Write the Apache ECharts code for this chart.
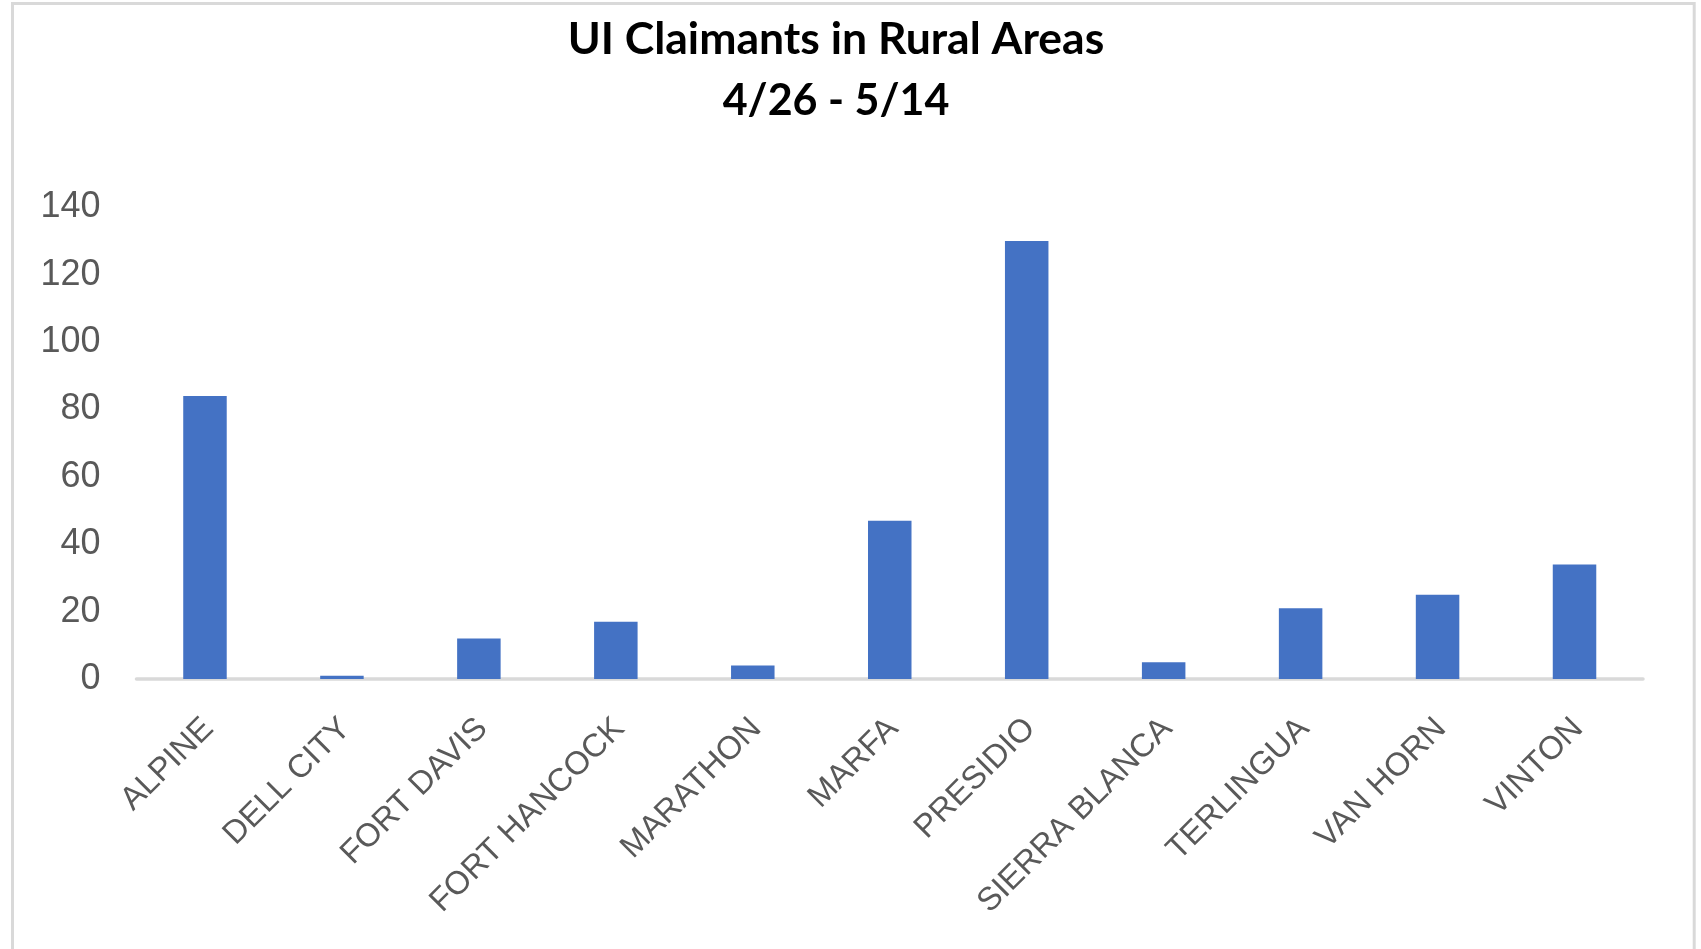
<!DOCTYPE html>
<html>
<head>
<meta charset="utf-8">
<script src="https://cdn.jsdelivr.net/npm/echarts@6/dist/echarts.min.js"></script>
<style>
html,body{margin:0;padding:0;background:#fff;}
#chart{width:1701px;height:949px;}
</style>
</head>
<body>
<div id="chart"></div>
<script>
const titleLines = ['UI Claimants in Rural Areas', '4/26 - 5/14'];
const categories = ['ALPINE', 'DELL CITY', 'FORT DAVIS', 'FORT HANCOCK', 'MARATHON', 'MARFA', 'PRESIDIO', 'SIERRA BLANCA', 'TERLINGUA', 'VAN HORN', 'VINTON'];
const claimants = [84, 1, 12, 17, 4, 47, 130, 5, 21, 25, 34];
const yTicks = { min: 0, max: 140, interval: 20 };

const chart = echarts.init(document.getElementById('chart'), null, { renderer: 'canvas' });
chart.setOption({
  animation: false,
  backgroundColor: '#ffffff',
  graphic: [
    { type: 'rect', shape: { x: 12.5, y: 3.5, width: 1681.7, height: 1000 }, style: { fill: 'none', stroke: '#d9d9d9', lineWidth: 3 }, silent: true },
    { type: 'text', x: 836, y: 40, style: { text: titleLines[0], font: 'bold 44.5px Lato, "Liberation Sans", sans-serif', fill: '#000', textAlign: 'center', textVerticalAlign: 'middle' } },
    { type: 'text', x: 836, y: 101, style: { text: titleLines[1], font: 'bold 43px Lato, "Liberation Sans", sans-serif', fill: '#000', textAlign: 'center', textVerticalAlign: 'middle' } }
  ],
  grid: { left: 136.5, right: 58, top: 207.3, bottom: 270, containLabel: false },
  xAxis: {
    type: 'category',
    data: categories,
    offset: 2,
    axisLine: { show: true, lineStyle: { color: '#d9d9d9', width: 3.5 } },
    axisTick: { show: false },
    axisLabel: {
      rotate: 45,
      interval: 0,
      margin: 46,
      padding: [0, -5, 0, 0],
      color: '#595959',
      fontFamily: '"Liberation Sans", Arial, sans-serif',
      fontSize: 32.5
    },
    splitLine: { show: false }
  },
  yAxis: {
    type: 'value',
    min: yTicks.min,
    max: yTicks.max,
    interval: yTicks.interval,
    axisLine: { show: false },
    axisTick: { show: false },
    splitLine: { show: false },
    axisLabel: {
      margin: 36,
      padding: [0, 0, 5, 0],
      color: '#595959',
      fontFamily: '"Liberation Sans", Arial, sans-serif',
      fontSize: 36
    }
  },
  series: [{
    type: 'bar',
    data: claimants,
    barWidth: 43.5,
    itemStyle: { color: '#4472C4' }
  }]
});
</script>
</body>
</html>
